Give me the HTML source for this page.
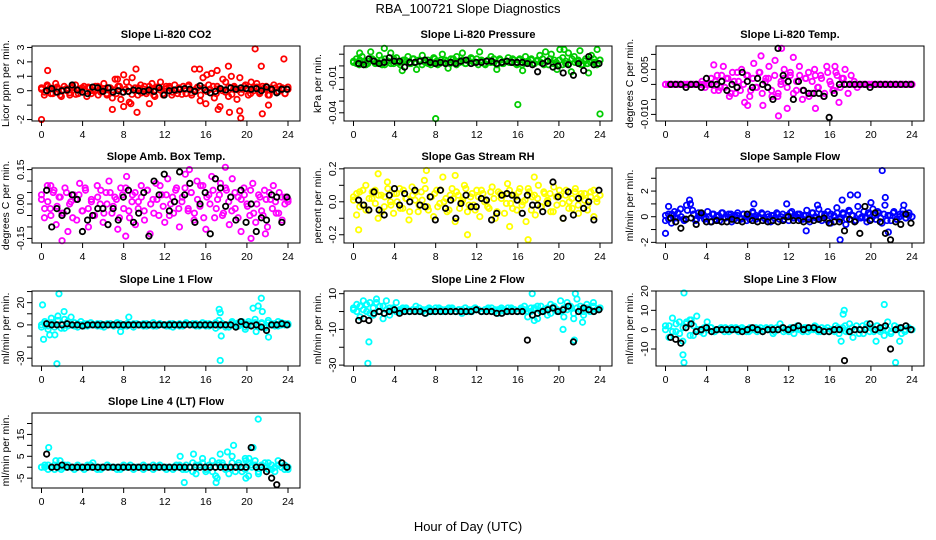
<!DOCTYPE html>
<html><head><meta charset="utf-8">
<style>
html,body{margin:0;padding:0;background:#fff;}
svg{display:block;font-family:"Liberation Sans",sans-serif;}
</style></head>
<body>
<svg id="fig" width="936" height="540" viewBox="0 0 936 540">
<text x="468" y="13" text-anchor="middle" font-size="13">RBA_100721  Slope Diagnostics</text>
<text x="468" y="531" text-anchor="middle" font-size="13">Hour of Day (UTC)</text>
</svg>
<script>
// x ticks
const xTicks = [0,4,8,12,16,20,24];
// ---- Panel 1: CO2
const co2Vals = [0.1,-0.3,0.4,0.2,-0.2,0.5,0.1,-0.4,0.3,0,-0.3,0.2,0.4,-0.2,0.1,0.3,-0.4,0.2,0,0.3,-0.3,0.1,0.5,-0.2,0.2,-0.5,0.8,0.3,-0.6,1.1,0.6,-0.8,0.9,0.2,-0.3,0.4,0.1,-0.2,0.3,0.5,-0.4,0.2,0.6,-0.3,0.3,0.2,-0.3,0.4,-0.2,0.1,0.3,-0.2,0.4,-0.3,1.5,0.2,-0.7,0.9,-0.9,0.4,1.2,-0.5,0.3,-1.1,0.8,0.6,-0.4,1.0,0.3,-0.6,0.9,0.1,0.4,-0.3,0.6,0.2,0.5,-0.2,0.3,0.1,-0.3,0.2,0.4,-0.1,0.3,0.2,-0.2,0.1];
const co2Core = [0.2,-0.1,0.3,-0.2,0.1,0.25,-0.3,0.05,0.15,-0.15,0.3,-0.25,0.1,0.2,-0.05,0.25,-0.2,0.0,0.3,-0.1,0.15,-0.3,0.2,0.05,-0.2,0.3,-0.1,0.1,0.25,-0.25,0.0,0.2,-0.15,0.3,-0.05,0.1,-0.3,0.25,0.05,-0.2,0.15,0.3,-0.1,0.0,0.2,-0.25,0.1,0.3,-0.15,0.05,0.25,-0.3,0.2,-0.05,0.1,0.3,-0.2,0.15,0.0,-0.1,0.25,-0.25,0.2,0.05,-0.15,0.3,0.1,-0.2,0.0,0.25,-0.1,0.15,0.3,-0.3,0.05,0.2,-0.05,0.1,-0.2,0.25];
const co2OutT = [0,0.6,6.9,7.4,8,8.7,9.2,9.3,10.5,15.4,16.1,17.1,17.2,18.2,18.3,19.4,19.3,20.8,21.4,21.5,22.1,23.6];
const co2OutV = [-2,1.4,-1.3,0.8,-1.1,-0.9,1.5,-1.5,-0.9,1.5,1.1,1.4,-1.3,1.7,-1.5,-1.9,-1.4,2.9,1.7,-1.6,-1.0,2.2];
const co2Black = [0,0.15,-0.1,0,0.05,0.4,0.05,-0.1,-0.2,0.25,0.2,-0.05,0.2,-0.1,0,-0.1,-0.05,0.05,0,-0.05,0.05,-0.05,0.2,-0.3,0,0.05,0.1,0.15,0.1,-0.05,0.35,0.05,-0.15,-0.05,0.15,0.05,0.2,0.1,0.2,0.15,0.1,0.15,0,0.25,0.1,-0.15,0.1,0.1];
// ---- Panel 2: Pressure
const presVals = [0.003,0.006,0.001,0.008,0.004,0.002,0.012,0.005,0.003,0.009,0.001,0.006,0.004,0.011,0.002,0.007,0.003,-0.004,0.005,0.008,0.002,0.006,-0.003,0.004,0.009,0.003,0.005,0.001,0.007,0.004,0.002,0.010,0.005,-0.002,0.006,0.003,0.008,0.004,0.011,0.002,0.005,0.007,0.003,0.006,0.012,0.004,0.001,0.005,0.008,0.003,-0.003,0.006,0.002,0.004,0.007,0.003,0.005,0.001,0.006,-0.004,0.008,0.003,0.005,0.002,0.004,0.009,0.006,0.012,0.001,0.010,0.005,-0.003,0.014,0.007,0.002,0.011,-0.005,0.008,0.004,0.013,0.001,0.006,-0.006,0.009,0.003,0.014,0.005];
const presCore = [0.004,0.002,0.005,0.003,0.001,0.004,0.006,0.002,0.003,0.005,0.001,0.004,0.002,0.006,0.003,0.001,0.005,0.004,0.002,0.006,0.003,0.005,0.001,0.004,0.002,0.003,0.006,0.001,0.005,0.003,0.004,0.002,0.006,0.001,0.003,0.005,0.002,0.004,0.006,0.003,0.001,0.005,0.002,0.004,0.003,0.006,0.001,0.005,0.002,0.004,0.003,0.006,0.002,0.005,0.001,0.003,0.004,0.006,0.002,0.005,0.003,0.001,0.004,0.006,0.002,0.003,0.005,0.001,0.004,0.002,0.006,0.003,0.005,0.001,0.004,0.002,0.003,0.006,0.001,0.005];
const presOutT = [8,16,24,0.6,3,20.5];
const presOutV = [-0.045,-0.033,-0.041,0.011,0.015,0.014];
const presBlack = [0.002,0.001,0.006,0.004,0.002,0.003,0.007,0.004,0.004,-0.001,0.003,0.003,0.004,0.005,0.003,0.002,0.003,0.002,0.003,0.002,0.004,0.005,0.002,0.003,0.003,0.004,0.004,0.002,0.003,0.004,0.003,0.003,0.003,0.002,0.001,-0.005,0.002,0.004,-0.001,0.0,-0.006,0.001,-0.008,0.002,-0.004,0.008,0.001,0.002];
// ---- Panel 3: Li-820 Temp
const tempVals = [0,0,0,0,0,0,0,0,0,0,0,0,0.001,-0.001,0,0.002,-0.002,0.003,-0.001,0.006,0.002,-0.004,0.004,-0.003,0.001,0.005,-0.006,0.003,-0.002,0.007,-0.001,0.004,-0.007,0.002,0.006,-0.004,0.008,-0.003,0.001,0.005,-0.008,0.003,0.009,-0.002,0.006,-0.005,0.002,0.004,-0.003,0.005,-0.001,0.003,-0.004,0.006,0.001,-0.002,0.004,-0.006,0.002,0.005,-0.003,0.003,0.001,-0.001,0,0,0,0,0,0,0,0,0,0,0,0,0,0,0,0,0,0];
const tempCore = [0,0,0,0,0,0,0,0,0,0,0,0,0,0,0,0,0.001,-0.002,0.003,-0.001,0.002,-0.003,0.001,0.004,-0.002,0.0,0.003,-0.004,0.002,-0.001,0.004,-0.003,0.001,0.002,-0.002,0.003,-0.004,0.0,0.002,-0.001,0.004,-0.003,0.001,0.003,-0.002,0.002,-0.004,0.001,0.003,-0.001,0.002,-0.003,0.004,0.0,-0.002,0.003,-0.001,0.002,0,0,0,0,0,0,0,0,0,0,0,0,0,0,0,0,0,0,0,0,0,0];
const tempOutT = [4.7,8,9.3,11.3,11.0,14.6,16.5];
const tempOutV = [0.0065,-0.007,0.0095,0.012,-0.0105,-0.008,0.006];
const tempBlack = [0,0,0,-0.001,0,0,-0.001,0.002,0,0,0.001,-0.002,0,-0.001,0.004,0.001,-0.001,0.002,0,-0.001,-0.005,0.012,0.003,0.001,-0.005,0.001,-0.002,-0.003,-0.003,-0.003,-0.004,-0.011,-0.003,0,0,0,0,0,0,-0.001,0,0,0,0,0,0,0,0];
// ---- Panel 4: Amb. Box Temp
const ambVals = [0.02,-0.06,0.08,-0.02,0.05,-0.09,0.03,-0.04,0.07,-0.12,0.01,0.04,-0.07,0.09,-0.03,0.06,-0.1,0.02,-0.05,0.08,0.0,-0.08,0.05,0.1,-0.04,0.03,-0.11,0.07,-0.02,0.12,-0.06,0.04,-0.09,0.01,0.08,-0.03,0.06,-0.13,0.02,0.09,-0.05,0.04,-0.08,0.11,0.0,-0.04,0.07,-0.1,0.03,0.13,-0.02,0.05,-0.07,0.1,-0.01,0.08,-0.11,0.04,0.12,-0.06,0.02,0.09,-0.04,0.06,-0.09,0.11,-0.02,0.03,-0.12,0.07,0.0,-0.05,0.09,-0.08,0.04,-0.03,0.06,-0.1,0.02,0.08,-0.04,0.05,-0.07,0.03,0.01];
const ambCore = [0.04,-0.02,0.01,-0.05,0.06,-0.01,0.03,-0.04,0.05,0.0,-0.06,0.02,0.04,-0.03,0.07,-0.02,0.01,-0.05,0.03,0.06,-0.04,0.0,0.05,-0.01,0.02,-0.06,0.04,0.07,-0.03,0.01,0.05,-0.02,0.03,-0.07,0.06,0.0,-0.04,0.02,0.08,-0.01,0.04,-0.05,0.03,0.06,-0.02,0.01,0.07,-0.03,0.05,-0.04,0.02,0.08,-0.06,0.03,0.0,0.06,-0.02,0.04,-0.05,0.07,0.01,-0.03,0.05,-0.06,0.02,0.04,-0.01,0.06,-0.04,0.0,0.03,-0.05,0.02,0.05,-0.02,0.01,-0.04,0.03,0.0,0.02];
const ambOutT = [2,8.2,14.4,17.9,20.4,0.9,21.8];
const ambOutV = [-0.16,-0.14,0.15,0.16,-0.15,0.08,-0.13];
const ambBlack = [0.06,-0.1,-0.02,-0.05,-0.03,0.04,0.02,-0.12,-0.07,-0.05,-0.02,-0.02,-0.09,-0.02,-0.07,0.03,0.06,-0.08,-0.04,0.05,-0.14,0.1,0.04,0.13,-0.03,0.01,0.14,0.04,0.09,-0.08,0.0,0.05,-0.13,0.11,0.07,-0.01,0.03,-0.07,0.06,-0.08,0.0,-0.12,-0.06,-0.07,0.04,0.03,-0.08,0.03];
// ---- Panel 5: Gas Stream RH
const rhVals = [0.03,-0.08,0.06,-0.02,0.1,-0.05,0.02,0.07,-0.1,0.04,-0.03,0.12,0.0,-0.07,0.05,0.08,-0.04,0.02,-0.11,0.09,0.01,-0.06,0.06,0.13,-0.03,0.03,-0.09,0.07,-0.01,0.15,0.02,-0.05,0.08,-0.12,0.04,0.0,0.1,-0.06,0.03,-0.02,0.07,-0.09,0.05,0.01,-0.04,0.09,-0.1,0.06,0.02,-0.07,0.11,-0.01,0.04,-0.05,0.08,0.0,-0.12,0.06,0.03,-0.08,0.1,-0.03,0.05,0.01,-0.06,0.09,-0.02,0.04,-0.1,0.07,0.0,-0.04,0.08,-0.07,0.03,0.05,-0.02,0.06,-0.09,0.02,0.04];
const rhCore = [0.01,0.05,-0.03,0.07,-0.05,0.02,0.06,-0.01,0.04,-0.06,0.03,0.08,-0.02,0.05,0.0,-0.04,0.07,0.02,-0.06,0.04,0.06,-0.02,0.01,0.08,-0.05,0.03,0.05,-0.03,0.07,0.0,-0.06,0.04,0.02,0.06,-0.04,0.01,0.08,-0.02,0.05,-0.05,0.03,0.07,0.0,-0.03,0.06,0.02,-0.06,0.05,0.04,-0.01,0.07,-0.04,0.03,0.06,-0.02,0.01,0.08,-0.05,0.04,0.02,-0.03,0.06,0.0,0.05,-0.06,0.03,0.07,-0.01,0.04,-0.04,0.02,0.06,-0.02,0.05,0.01,-0.05,0.03,0.07,0.0,0.04];
const rhOutT = [0.5,2.4,7.1,9.9,11.1,17,15.2,17.6];
const rhOutV = [-0.17,0.17,0.19,0.16,-0.2,-0.23,-0.15,0.15];
const rhBlack = [0.01,-0.02,-0.05,0.06,-0.05,-0.08,0.04,0.08,-0.02,0.05,0.0,0.07,-0.02,-0.03,0.03,-0.11,0.07,-0.04,0.01,-0.1,-0.01,0.04,-0.03,-0.03,0.02,0.01,-0.11,-0.07,0.04,0.05,0.04,0.01,-0.07,0.04,-0.02,-0.02,-0.06,-0.01,0.12,0.03,-0.1,0.06,-0.08,0.02,-0.04,0.0,-0.11,0.07];
// ---- Panel 6: Sample Flow
const sfVals = [-0.3,0.2,-0.5,0.4,-0.1,0.6,-0.2,0.9,1.3,0.5,-0.3,0.3,0.1,-0.2,0.4,-0.4,0.2,0.0,-0.3,0.3,-0.1,0.2,-0.4,0.1,0.3,-0.2,0.2,-0.3,0.1,0.4,-0.2,0.0,0.3,-0.1,0.2,-0.4,0.1,0.3,-0.2,0.2,0.0,-0.3,0.4,-0.1,0.2,-0.2,0.1,0.5,-0.4,0.3,-0.1,0.6,-0.3,0.2,0.4,-0.5,0.1,0.7,-0.2,0.3,-0.6,0.5,0.1,-0.3,0.8,-0.1,0.4,-0.4,0.2,0.6,-0.2,0.3,-0.5,0.9,0.1,-0.3,0.4,-0.2,0.2,0.5,-0.1,0.3,0.0];
const sfCore = [0.1,-0.2,0.2,-0.1,0.3,0.0,-0.3,0.5,1.0,0.2,-0.2,0.1,0.2,-0.1,0.0,0.2,-0.2,0.1,0.3,-0.1,0.0,0.2,-0.2,0.1,-0.1,0.2,0.0,-0.2,0.3,0.1,-0.1,0.2,-0.2,0.0,0.1,-0.1,0.2,0.0,-0.2,0.1,0.3,-0.1,0.0,0.2,-0.2,0.1,-0.1,0.3,0.0,-0.2,0.2,0.1,-0.3,0.2,0.0,0.3,-0.1,0.2,-0.2,0.4,0.1,-0.3,0.2,0.0,-0.1,0.3,-0.2,0.1,0.4,-0.1,0.2,-0.3,0.1,0.3,-0.2,0.0,0.2,-0.1,0.1,0.0];
const sfOutT = [0,0.3,8.6,11.8,13.7,14.8,17,17.2,18,18.7,20,21.1,21.4,21.7,23.2];
const sfOutV = [-1.3,0.8,1.0,1.0,-1.1,0.9,-1.8,1.3,1.7,1.7,1.1,3.6,1.5,-1.2,0.9];
const sfBlack = [-0.1,-0.4,-0.9,-0.2,-0.1,-0.6,0.3,-0.4,-0.4,-0.3,-0.4,-0.4,-0.2,-0.3,-0.4,0.2,-0.3,-0.4,-0.3,-0.4,-0.3,-0.4,-0.3,0.0,-0.3,-0.3,-0.4,-0.2,-0.3,-0.2,-0.1,-0.5,-0.4,-0.4,-1.1,-0.2,-0.4,-1.3,0.8,-0.3,0.3,-0.4,-1.3,-1.8,-0.4,-0.6,0.2,-0.5];
// ---- Panel 7: Line 1 Flow
const l1Vals = [-2,3,-4,6,1,8,-3,5,-1,7,2,-2,3,1,-1,2,0,-1,1,-2,0,1,-1,2,0,-1,1,0,-2,1,0,1,-1,0,2,-1,1,0,-1,1,-2,0,1,-1,2,0,1,-1,0,2,-1,1,0,-3,4,1,-2,0,3,-1,2,1,-4,3,0,5,-2,2,-3,4,1,-1,3,2,0,1];
const l1Core = [0,1,-1,2,-2,4,1,-3,3,0,-1,1,0,-1,1,0,0,1,-1,0,1,0,-1,0,1,0,-1,0,1,0,0,-1,1,0,-1,0,1,0,0,-1,1,0,-1,0,1,0,0,1,-1,0,1,-1,0,2,-1,1,0,-2,2,1,-1,3,-2,1,0,2,-1,1,-2,2,0,1,-1,0,1,0];
const l1OutT = [0.1,0.2,1.5,1.7,0.8,2.2,8.5,7.7,17.4,17.3,17.5,17.4,20.6,21.1,21.4,21.5,20.9,22.1,1.3];
const l1OutV = [18,-13,-35,28,-9,12,7,-6,-32,14,-10,11,15,17,24,12,-6,-11,-9];
const l1Black = [1,0,0,0,1,0,0,-1,0,0,0,0,0,0,0,0,0,0,0,0,0,0,0,0,0,0,0,0,0,0,0,0,0,0,0,0,0,-2,3,0,-1,0,-2,-5,0,0,1,0];
// ---- Panel 8: Line 2 Flow
const l2Vals = [1,4,-3,6,0,5,-2,7,3,-4,6,-2,2,5,0,1,2,0,1,3,0,1,-1,2,1,0,2,1,0,1,2,0,1,-1,2,1,0,2,1,0,1,2,0,1,-1,2,1,0,2,1,0,1,3,-3,0,2,-4,3,1,-2,4,2,0,6,-3,5,2,-4,7,3,-2,4,0,5,1,2];
const l2Core = [2,0,3,1,4,-1,2,5,0,3,1,2,1,0,1,2,1,0,1,1,2,0,1,1,0,2,1,0,1,2,1,0,1,1,2,0,1,2,1,0,1,1,2,0,1,1,0,2,1,1,0,2,1,0,2,1,3,0,1,2,-1,3,1,0,2,1,3,-1,2,1,0,2,1,3,1,2];
const l2OutT = [1.5,1.4,17.4,17.6,21.5,21.6,20.4,22.3];
const l2OutV = [-17,-29,10,-5,-16,10,-10,-6];
const l2Black = [-5,-4,-5,-1,0,-1,0,1,-1,0,0,0,0,-1,0,0,0,0,0,0,0,0,0,1,0,0,0,-1,-1,0,0,0,0,-16,-2,-1,0,1,2,0,1,3,-17,0,2,1,0,1];
// ---- Panel 9: Line 3 Flow
const l3Vals = [2,-4,6,-1,4,-6,3,5,-3,7,0,-2,4,1,-1,0,1,-1,0,1,0,-1,1,0,-1,0,1,0,-1,1,0,-2,1,3,-1,0,1,-2,2,0,1,-1,0,2,-1,1,0,-1,0,2,-2,1,-1,3,-4,2,0,-2,3,1,-1,2,0,-3,4,-1,2,1,-2,0,1,0];
const l3Core = [0,2,-1,3,-2,1,4,-3,2,0,-1,1,0,1,-1,0,0,1,-1,0,1,0,0,-1,1,0,-1,1,0,0,1,-1,0,1,0,-1,0,1,0,-1,1,0,0,1,-1,0,1,0,-1,1,0,2,-1,1,0,-2,2,1,-1,0,2,-1,1,0,-2,2,0,1,-1,1,0];
const l3OutT = [1.8,1.8,1.7,17.1,17.3,17.4,20.5,21.3,22.4,22.8,2.5];
const l3OutV = [19,-17,-13,-6,8,10,-6,13,-17,-6,5];
const l3Black = [-4,-5,-7,1,3,-1,0,1,-1,0,0,0,0,0,-1,0,1,0,-1,0,0,0,1,0,1,2,0,1,1,0,-1,-1,0,0,-16,-1,0,0,0,3,0,1,2,-10,0,1,2,0];
// ---- Panel 10: Line 4 (LT) Flow
const l4Vals = [0,1,-1,0,1,0,-1,0,1,0,0,1,0,-1,0,1,0,0,-1,0,1,0,0,-1,0,1,0,0,-1,0,0,1,0,0,-1,0,1,0,0,0,-1,0,1,0,-1,0,2,-3,1,4,-2,0,3,-4,1,2,-1,-3,5,0,2,-2,4,-4,1,3,-3,0,2,-1,1,-2,3,0,1,-1];
const l4Core = [0,0,1,0,-1,0,0,1,0,0,-1,0,0,0,1,0,0,-1,0,0,1,0,0,0,-1,0,0,1,0,0,0,-1,0,0,1,0,0,0,-1,0,0,1,0,-1,1,0,-2,1,0,2,-1,1,-2,0,2,1,-1,0,2,-2,1,0,-1,2,0,1,-2,1,0,2,-1,0,1,0,-1,0];
const l4OutT = [0.7,1.4,1.8,5,13.5,13.9,14.8,17,17.4,18.1,18.7,19.9,20.6,21.1,17.1,19.9,20.2];
const l4OutV = [9,3,3,2,5,-7,6,-7,6,7,10,-5,9,22,-5,3,4];
const l4Black = [6,0,0,1,0,0,0,0,0,0,0,0,0,0,0,0,0,0,0,0,0,0,0,0,0,0,0,0,0,0,0,0,0,0,0,0,0,0,0,0,9,0,0,-2,-5,-8,2,0];

const SVGNS = "http://www.w3.org/2000/svg";
const fig = document.getElementById('fig');
function mk(tag, attrs, parent){
  const e = document.createElementNS(SVGNS, tag);
  for (const k in attrs) e.setAttribute(k, attrs[k]);
  (parent||fig).appendChild(e);
  return e;
}
const cols = [32, 344, 656];
const rows = [46, 168, 291, 413];
const W = 268, H = 75;
const panels = [
 {id:'co2', title:'Slope Li-820 CO2', yl:'Licor ppm per min.', c:'#ff0000', lim:[-2.1,3.1], ticks:[-2,-1,0,1,2,3], labs:['-2','','0','1','2','3'], v:co2Vals, core:co2Core, ot:co2OutT, ov:co2OutV, k:co2Black, col:0,row:0},
 {id:'pressure', title:'Slope Li-820 Pressure', yl:'kPa per min.', c:'#00cc00', lim:[-0.047,0.017], ticks:[-0.04,-0.03,-0.02,-0.01,0,0.01], labs:['-0.04','','','-0.01','',''], v:presVals, core:presCore, ot:presOutT, ov:presOutV, k:presBlack, col:1,row:0},
 {id:'li820-temp', title:'Slope Li-820 Temp.', yl:'degrees C per min.', c:'#ff00ff', lim:[-0.0122,0.0128], ticks:[-0.01,-0.005,0,0.005,0.01], labs:['-0.010','','','0.005',''], v:tempVals, core:tempCore, ot:tempOutT, ov:tempOutV, k:tempBlack, col:2,row:0},
 {id:'amb-box-temp', title:'Slope Amb. Box Temp.', yl:'degrees C per min.', c:'#ff00ff', lim:[-0.17,0.157], ticks:[-0.15,-0.1,-0.05,0,0.05,0.1,0.15], labs:['-0.15','','','0.00','','','0.15'], v:ambVals, core:ambCore, ot:ambOutT, ov:ambOutV, k:ambBlack, col:0,row:1},
 {id:'gas-stream-rh', title:'Slope Gas Stream RH', yl:'percent per min.', c:'#ffff00', lim:[-0.25,0.205], ticks:[-0.2,-0.1,0,0.1,0.2], labs:['-0.2','','0.0','','0.2'], v:rhVals, core:rhCore, ot:rhOutT, ov:rhOutV, k:rhBlack, col:1,row:1},
 {id:'sample-flow', title:'Slope Sample Flow', yl:'ml/min per min.', c:'#0000ff', lim:[-2.05,3.8], ticks:[-2,-1,0,1,2,3], labs:['-2','','0','','2',''], v:sfVals, core:sfCore, ot:sfOutT, ov:sfOutV, k:sfBlack, col:2,row:1},
 {id:'line1-flow', title:'Slope Line 1 Flow', yl:'ml/min per min.', c:'#00ffff', lim:[-37,30.5], ticks:[-30,-20,-10,0,10,20,30], labs:['-30','','','0','','20',''], v:l1Vals, core:l1Core, ot:l1OutT, ov:l1OutV, k:l1Black, col:0,row:2},
 {id:'line2-flow', title:'Slope Line 2 Flow', yl:'ml/min per min.', c:'#00ffff', lim:[-30.5,11.5], ticks:[-30,-20,-10,0,10], labs:['-30','','-10','','10'], v:l2Vals, core:l2Core, ot:l2OutT, ov:l2OutV, k:l2Black, col:1,row:2},
 {id:'line3-flow', title:'Slope Line 3 Flow', yl:'ml/min per min.', c:'#00ffff', lim:[-18.8,20], ticks:[-10,0,10,20], labs:['-10','0','10','20'], v:l3Vals, core:l3Core, ot:l3OutT, ov:l3OutV, k:l3Black, col:2,row:2},
 {id:'line4-flow', title:'Slope Line 4 (LT) Flow', yl:'ml/min per min.', c:'#00ffff', lim:[-9.5,24.8], ticks:[-5,0,5,10,15,20], labs:['-5','','5','','15',''], v:l4Vals, core:l4Core, ot:l4OutT, ov:l4OutV, k:l4Black, col:0,row:3}
];
panels.forEach(p => {
  const L = cols[p.col], T = rows[p.row];
  const g = mk('g', {});
  
  
  const xs = t => L + 9.5 + t * (246.5 / 24);
  const ys = v => T + H - (v - p.lim[0]) / (p.lim[1] - p.lim[0]) * H;
  const cx = (L + W/2);
  const tt = mk('text', {x:cx, y:T-8, 'text-anchor':'middle', 'font-size':'11', 'font-weight':'bold'}, g);
  tt.textContent = p.title;
  
  
  const yl = mk('text', {x:0, y:0, 'text-anchor':'middle', 'font-size':'10.5', transform:`translate(${L-23},${T+H/2}) rotate(-90)`}, g);
  yl.textContent = p.yl;
  
  
  const pts = mk('g', {fill:'none', stroke:p.c, 'stroke-width':'1.8'}, g);
  
  
  [p.v, p.core].forEach(arr => {
    const n = arr.length;
    arr.forEach((v, i) => {
      const t = i * 24 / (n - 1);
      const c = mk('circle', {cx:xs(t), cy:ys(v), r:2.7}, pts);
      
      
    });
  });
  p.ot.forEach((t, i) => {
    const c = mk('circle', {cx:xs(t), cy:ys(p.ov[i]), r:2.7}, pts);
    
    
  });
  const bk = mk('g', {fill:'none', stroke:'#000', 'stroke-width':'1.8'}, g);
  
  
  p.k.forEach((v, i) => {
    const t = 0.5 + i * 23.4 / (p.k.length - 1);
    const c = mk('circle', {cx:xs(t), cy:ys(v), r:2.7}, bk);
    
    
  });
  const box = mk('rect', {x:L, y:T, width:W, height:H, fill:'none', stroke:'#000', 'stroke-width':'1'}, g);
  
  
  xTicks.forEach(t => {
    const x = xs(t);
    mk('line', {x1:x, y1:T+H, x2:x, y2:T+H+5, stroke:'#000'}, g);
    const lb = mk('text', {x:x, y:T+H+17, 'text-anchor':'middle', 'font-size':'10.5'}, g);
    lb.textContent = t;
    
    
  });
  p.ticks.forEach((v, i) => {
    const y = ys(v);
    mk('line', {x1:L-5, y1:y, x2:L, y2:y, stroke:'#000'}, g);
    if (p.labs[i]) {
      const lb = mk('text', {x:0, y:0, 'text-anchor':'middle', 'font-size':'10.5', transform:`translate(${L-8},${y}) rotate(-90)`}, g);
      lb.textContent = p.labs[i];
      
      
    }
  });
});
</script>
</body></html>
